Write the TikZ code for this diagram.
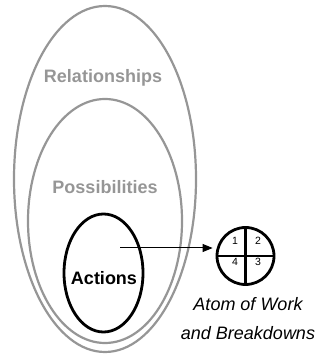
\documentclass[tikz,border=0pt]{standalone}
\usepackage{fontspec}
\setmainfont{Liberation Sans}
\usetikzlibrary{positioning, arrows.meta, shapes.geometric}
\definecolor{ringgray}{RGB}{150, 150, 150}

\begin{document}
\begin{tikzpicture}[x=1pt, y=1pt,
    ring/.style={ellipse, draw=ringgray, line width=2.2pt, inner sep=0pt},
    ringlabel/.style={text=ringgray, font=\fontsize{18}{20}\selectfont\bfseries},
    num/.style={font=\fontsize{10.5}{12}\selectfont, inner sep=0pt}]
    \useasboundingbox (0,0) rectangle (322,356);

    % Nested scopes
    \node[ring, minimum width=182, minimum height=346] (relations) at (105,177) {};
    \node[ring, minimum width=154, minimum height=244] (possible) at (105,135) {};
    \node[ellipse, draw=black, line width=2.8pt, inner sep=0pt,
          minimum width=79, minimum height=118] (actions) at (103.5,83) {};

    \node[ringlabel] (relText) at (103,278) {Relationships};
    \node[ringlabel] (posText) at (105,169) {Possibilities};
    \node[font=\fontsize{18}{20}\selectfont\bfseries] (actText) at (104,78) {Actions};

    % Atom of work
    \node[circle, draw=black, line width=2.8pt, inner sep=0pt, minimum size=57] (atom) at (245.5,100) {};
    \draw[line width=2.8pt] (atom.north) -- (atom.south);
    \draw[line width=2.8pt] (atom.west) -- (atom.east);
    \node[num] (q1) at (235,115) {1};
    \node[num] (q2) at (258,115) {2};
    \node[num] (q4) at (235,94) {4};
    \node[num] (q3) at (258,94) {3};

    \node[font=\fontsize{18}{29}\selectfont\itshape, align=center] (atomText) at (248,37.5)
        {Atom of Work\\and Breakdowns};

    % Arrow
    \coordinate (start) at (120,108);
    \draw[-{Triangle[length=10pt, width=8pt]}, line width=1pt]
        (start) -- ([xshift=-3pt]atom.west |- start);
\end{tikzpicture}
\end{document}
